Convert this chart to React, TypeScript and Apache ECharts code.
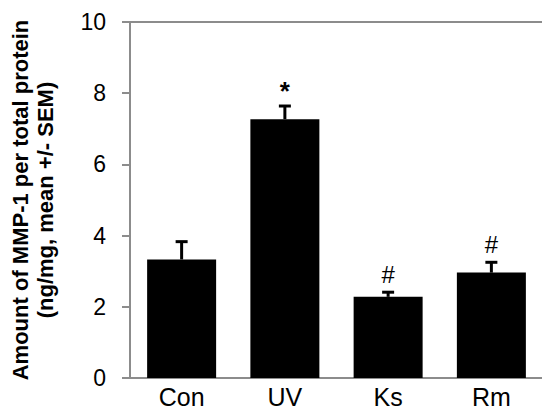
import React, { useEffect, useRef } from "react";
import * as echarts from "echarts";

const categories = ["Con", "UV", "Ks", "Rm"];
const means = [3.33, 7.27, 2.28, 2.96];
const sems = [0.5, 0.37, 0.13, 0.29];
const marks = ["", "*", "#", "#"];
const yTicks = { min: 0, max: 10, interval: 2 };
const yName = "Amount of MMP-1 per total protein\n(ng/mg, mean +/- SEM)";

const FONT = "'Liberation Sans', Arial, sans-serif";

export default function App() {
  const ref = useRef<HTMLDivElement>(null);
  useEffect(() => {
    if (!ref.current) return;
    const chart = echarts.init(ref.current, undefined, { renderer: "svg" });
    const errData = categories.map((c, i) => [i, means[i], means[i] + sems[i], marks[i]]);
    chart.setOption({
      animation: false,
      backgroundColor: "#ffffff",
      grid: {
        left: 124,
        right: 7,
        top: 22,
        bottom: 41,
        show: true,
        borderColor: "#8c8c8c",
        borderWidth: 2,
        backgroundColor: "transparent",
      },
      xAxis: {
        type: "category",
        data: categories,
        axisLine: { lineStyle: { color: "#8c8c8c", width: 2 } },
        axisTick: { alignWithLabel: true, length: 5, lineStyle: { color: "#8c8c8c", width: 2 } },
        axisLabel: { color: "#000", fontSize: 25, fontFamily: FONT, margin: 6 },
      },
      yAxis: {
        type: "value",
        min: yTicks.min,
        max: yTicks.max,
        interval: yTicks.interval,
        name: yName,
        nameLocation: "middle",
        nameRotate: 90,
        nameGap: 72,
        nameTextStyle: { color: "#000", fontSize: 22, fontWeight: "bold", fontFamily: FONT, lineHeight: 25 },
        axisLine: { show: true, lineStyle: { color: "#8c8c8c", width: 2 } },
        axisTick: { show: true, length: 8, lineStyle: { color: "#8c8c8c", width: 2 } },
        axisLabel: { color: "#000", fontSize: 23, fontFamily: FONT, margin: 24 },
        splitLine: { show: false },
      },
      series: [
        {
          type: "bar",
          data: means,
          barWidth: 69,
          itemStyle: { color: "#000" },
        },
        {
          type: "custom",
          data: errData,
          z: 3,
          renderItem: (params: any, api: any) => {
            const x = api.value(0);
            const lo = api.coord([x, api.value(1)]);
            const hi = api.coord([x, api.value(2)]);
            const mark = api.value(3);
            const cap = 6;
            const children: any[] = [
              { type: "line", shape: { x1: lo[0], y1: lo[1], x2: hi[0], y2: hi[1] }, style: { stroke: "#000", lineWidth: 3 } },
              { type: "line", shape: { x1: hi[0] - cap, y1: hi[1], x2: hi[0] + cap, y2: hi[1] }, style: { stroke: "#000", lineWidth: 3 } },
            ];
            if (mark) {
              children.push({
                type: "text",
                x: hi[0],
                y: hi[1] - (mark === "*" ? 2 : 6),
                style: {
                  text: mark,
                  textAlign: "center",
                  textVerticalAlign: "bottom",
                  fill: "#000",
                  fontSize: mark === "*" ? 26 : 24,
                  fontWeight: mark === "*" ? "bold" : "normal",
                  fontFamily: FONT,
                },
              });
            }
            return { type: "group", children };
          },
        },
      ],
    });
    return () => chart.dispose();
  }, []);
  return <div ref={ref} style={{ width: 550, height: 419, margin: -8 }} />;
}
